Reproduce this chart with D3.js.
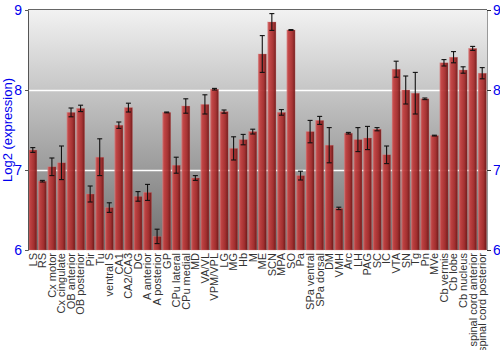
<!DOCTYPE html>
<html>
<head>
<meta charset="utf-8">
<script src="https://cdn.jsdelivr.net/npm/d3@7"></script>
<style>
  body { margin: 0; background: #fff; }
  svg { display: block; font-family: 'Liberation Sans', Arial, sans-serif; }
</style>
</head>
<body>
<div id="chart"></div>
<script>
const regions = ['LS', 'RS', 'Cx motor', 'Cx cingulate', 'OB anterior', 'OB posterior', 'Pir', 'Tu',
  'ventral S', 'CA1', 'CA2/CA3', 'DG', 'A anterior', 'A posterior', 'GP', 'CPu lateral', 'CPu medial',
  'MD', 'VA/VL', 'VPM/VPL', 'LG', 'MG', 'Hb', 'M', 'ME', 'SCN', 'MPA', 'SO', 'Pa', 'SPa ventral',
  'SPa dorsal', 'DM', 'VMH', 'Arc', 'LH', 'PAG', 'SC', 'IC', 'VTA', 'SN', 'Tg', 'Pn', 'MVe',
  'Cb vermis', 'Cb lobe', 'Cb nucleus', 'spinal cord anterior', 'spinal cord posterior']

const expression = [7.25, 6.86, 7.04, 7.09, 7.72, 7.77, 6.70, 7.16, 6.53, 7.56, 7.78, 6.67, 6.72, 6.17,
  7.72, 7.06, 7.80, 6.90, 7.82, 8.01, 7.73, 7.27, 7.38, 7.48, 8.45, 8.85, 7.72, 8.75, 6.93, 7.48,
  7.62, 7.31, 6.52, 7.46, 7.38, 7.40, 7.51, 7.19, 8.26, 8.00, 7.96, 7.89, 7.43, 8.34, 8.41, 8.25,
  8.52, 8.21]

const errors = [0.03, 0.01, 0.11, 0.21, 0.055, 0.04, 0.10, 0.23, 0.06, 0.04, 0.055, 0.06, 0.10, 0.09,
  0.005, 0.10, 0.09, 0.03, 0.12, 0.01, 0.02, 0.145, 0.065, 0.03, 0.23, 0.105, 0.035, 0.005, 0.055, 0.14,
  0.05, 0.22, 0.015, 0.01, 0.15, 0.145, 0.02, 0.11, 0.10, 0.175, 0.26, 0.01, 0.005, 0.04, 0.07, 0.04,
  0.025, 0.07]

const yTicks = [6, 7, 8, 9]

const width = 500
const height = 350
const margin = { top: 10, right: 13, bottom: 100, left: 28 }

const svg = d3.select('#chart').append('svg').attr('width', width).attr('height', height)

const defs = svg.append('defs')
const bg = defs.append('linearGradient').attr('id', 'bg').attr('x1', 0).attr('y1', 0).attr('x2', 0).attr('y2', 1)
bg.append('stop').attr('offset', '0%').attr('stop-color', '#f2f2f2')
bg.append('stop').attr('offset', '100%').attr('stop-color', '#6e6e6e')

const barFill = defs.append('linearGradient').attr('id', 'bar').attr('x1', 0).attr('y1', 0).attr('x2', 1).attr('y2', 0)
barFill.append('stop').attr('offset', '0%').attr('stop-color', '#cf6a6a')
barFill.append('stop').attr('offset', '20%').attr('stop-color', '#c23d3d')
barFill.append('stop').attr('offset', '65%').attr('stop-color', '#a52a2a')
barFill.append('stop').attr('offset', '100%').attr('stop-color', '#6e1212')

const x = d3.scaleBand().domain(regions).range([margin.left, width - margin.right]).paddingInner(0.14).paddingOuter(0.07)
const y = d3.scaleLinear().domain([6, 9]).range([height - margin.bottom, margin.top])

// plot background
svg.append('rect')
  .attr('x', margin.left).attr('y', margin.top)
  .attr('width', width - margin.left - margin.right)
  .attr('height', height - margin.top - margin.bottom)
  .attr('fill', 'url(#bg)')

// grid lines
svg.append('g')
  .selectAll('line')
  .data([7, 8])
  .join('line')
  .attr('x1', margin.left).attr('x2', width - margin.right)
  .attr('y1', d => y(d) + 0.5).attr('y2', d => y(d) + 0.5)
  .attr('stroke', '#fff').attr('stroke-width', 1.5)

const data = regions.map((r, i) => ({ r, v: expression[i], e: errors[i] }))

svg.append('g')
  .selectAll('rect')
  .data(data)
  .join('rect')
  .attr('x', d => x(d.r))
  .attr('y', d => y(d.v))
  .attr('width', x.bandwidth())
  .attr('height', d => y(6) - y(d.v))
  .attr('fill', 'url(#bar)')
  .attr('fill-opacity', 0.93)
  .attr('stroke', '#d88080').attr('stroke-width', 0.5).attr('stroke-opacity', 0.6)

// error bars
const eb = svg.append('g').attr('stroke', '#111').attr('stroke-width', 1.1)
eb.selectAll('line.v')
  .data(data)
  .join('line')
  .attr('class', 'v')
  .attr('x1', d => x(d.r) + x.bandwidth() / 2).attr('x2', d => x(d.r) + x.bandwidth() / 2)
  .attr('y1', d => y(d.v + d.e)).attr('y2', d => y(d.v - d.e))
eb.selectAll('line.t')
  .data(data.flatMap(d => [d.v + d.e, d.v - d.e].map(v => ({ r: d.r, v }))))
  .join('line')
  .attr('class', 't')
  .attr('x1', d => x(d.r) + x.bandwidth() / 2 - 2.5).attr('x2', d => x(d.r) + x.bandwidth() / 2 + 2.5)
  .attr('y1', d => y(d.v)).attr('y2', d => y(d.v))

// frame: top and left lines
svg.append('line')
  .attr('x1', margin.left).attr('x2', width - margin.right)
  .attr('y1', margin.top - 0.5).attr('y2', margin.top - 0.5)
  .attr('stroke', '#666')

const yAxisLeft = svg.append('g')
  .attr('transform', `translate(${margin.left},0)`)
  .call(d3.axisLeft(y).tickValues(yTicks).tickFormat(d3.format('d')).tickSize(3).tickPadding(3))
yAxisLeft.select('.domain').attr('stroke', '#555')
yAxisLeft.selectAll('.tick line').attr('stroke', '#555')
yAxisLeft.selectAll('.tick text').attr('fill', '#0000ee').style('font-size', '14px')

const yAxisRight = svg.append('g')
  .attr('transform', `translate(${width - margin.right},0)`)
  .call(d3.axisRight(y).tickValues(yTicks).tickFormat(d3.format('d')).tickSize(4).tickPadding(2))
yAxisRight.select('.domain').attr('stroke', '#999')
yAxisRight.selectAll('.tick line').attr('stroke', '#333')
yAxisRight.selectAll('.tick text').attr('fill', '#0000ee').style('font-size', '14px')

// x labels
const xAxis = svg.append('g')
  .attr('transform', `translate(0,${height - margin.bottom})`)
  .call(d3.axisBottom(x).tickSize(0).tickPadding(0))
xAxis.select('.domain').remove()
xAxis.selectAll('.tick text')
  .attr('transform', 'rotate(-90)')
  .attr('text-anchor', 'end')
  .attr('x', -3).attr('y', 0).attr('dy', '0.35em')
  .attr('fill', '#333')
  .style('font-size', '11px')

// y title
svg.append('text')
  .attr('transform', `translate(12,${y(7.5)}) rotate(-90)`)
  .attr('text-anchor', 'middle')
  .attr('fill', '#0000ee')
  .style('font-size', '13px')
  .text('Log2 (expression)')
</script>
</body>
</html>
